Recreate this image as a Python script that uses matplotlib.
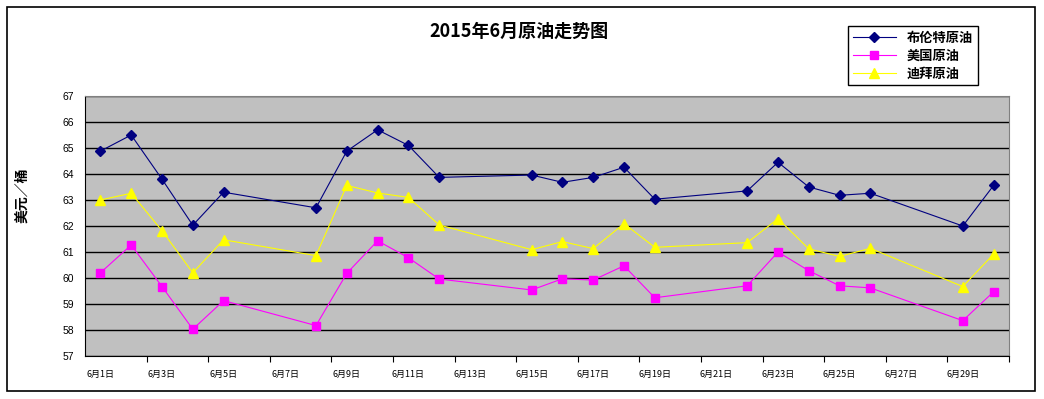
import matplotlib
matplotlib.use("Agg")
import matplotlib.pyplot as plt

plt.rcParams["font.family"] = ["Noto Sans CJK SC", "DejaVu Sans"]

# ── 数据 ──────────────────────────────────────────────────────────────────────
days = [1, 2, 3, 4, 5, 8, 9, 10, 11, 12, 15, 16, 17, 18, 19, 22, 23, 24, 25, 26, 29, 30]
brent = [64.88, 65.50, 63.80, 62.03, 63.30, 62.70, 64.88, 65.70, 65.10, 63.87, 63.96,
         63.68, 63.87, 64.26, 63.03, 63.35, 64.45, 63.50, 63.18, 63.26, 62.00, 63.56]
wti = [60.20, 61.27, 59.67, 58.03, 59.13, 58.17, 60.18, 61.43, 60.78, 59.96, 59.54,
       59.97, 59.92, 60.47, 59.24, 59.70, 61.00, 60.28, 59.70, 59.62, 58.36, 59.47]
dubai = [63.00, 63.26, 61.82, 60.20, 61.47, 60.86, 63.56, 63.27, 63.10, 62.04, 61.09,
         61.40, 61.13, 62.09, 61.18, 61.36, 62.28, 61.12, 60.83, 61.14, 59.67, 60.92]
label_days = list(range(1, 30, 2))
tick_labels = [f"6月{d}日" for d in label_days]
y_ticks = list(range(57, 68))

W, H = 1044, 399
fig = plt.figure(figsize=(W / 100, H / 100), dpi=100)
fig.patch.set_facecolor("white")
# 外框
fig.add_artist(plt.Rectangle((7 / W, 1 - 391 / H), 1028 / W, 384 / H, transform=fig.transFigure,
                             fill=False, edgecolor="black", linewidth=1.2))

ax = fig.add_axes([85 / W, 43 / H, 924 / W, 260 / H])
ax.set_facecolor("#C0C0C0")

ax.plot(days, brent, color="#000080", marker="D", markersize=5.5, linewidth=0.8, label="布伦特原油")
ax.plot(days, wti, color="#FF00FF", marker="s", markersize=5.5, linewidth=0.8, label="美国原油")
ax.plot(days, dubai, color="#FFFF00", marker="^", markersize=6.5, linewidth=0.8, label="迪拜原油")

ax.set_xlim(0.5, 30.5)
ax.set_ylim(57, 67)
ax.set_yticks(y_ticks)
ax.set_yticklabels([str(v) for v in y_ticks], fontsize=7.5, family=["Liberation Sans"])
ax.yaxis.grid(True, color="black", linewidth=1)
ax.set_axisbelow(True)
ax.tick_params(axis="y", length=0, pad=8)

# 刻度线在两天之间, 标签在单数日
ax.set_xticks([d + 1.5 for d in label_days])
ax.set_xticklabels([])
ax.set_xticks(label_days, minor=True)
ax.set_xticklabels(tick_labels, minor=True, fontsize=6.5)
ax.tick_params(axis="x", which="major", length=4, direction="out", color="black")
ax.tick_params(axis="x", which="minor", length=0, pad=10)

for side in ("top", "right"):
    ax.spines[side].set_color("#808080")
for side in ("left", "bottom"):
    ax.spines[side].set_color("black")

fig.text(519 / W, 1 - 31 / H, "2015年6月原油走势图", ha="center", va="center",
         fontsize=13, fontweight="bold")
fig.text(22 / W, 1 - 195 / H, "美元／桶", ha="center", va="center", rotation=90,
         fontsize=10, fontweight="bold")

leg = fig.legend(loc="upper left", bbox_to_anchor=(848 / W, 1 - 26 / H),
                 frameon=True, fancybox=False, edgecolor="black", framealpha=1,
                 prop={"size": 9.5, "weight": "bold"}, handlelength=3.3,
                 borderpad=0.35, labelspacing=0.3, borderaxespad=0)
leg.get_frame().set_linewidth(1)

fig.savefig("out.png", dpi=100)
